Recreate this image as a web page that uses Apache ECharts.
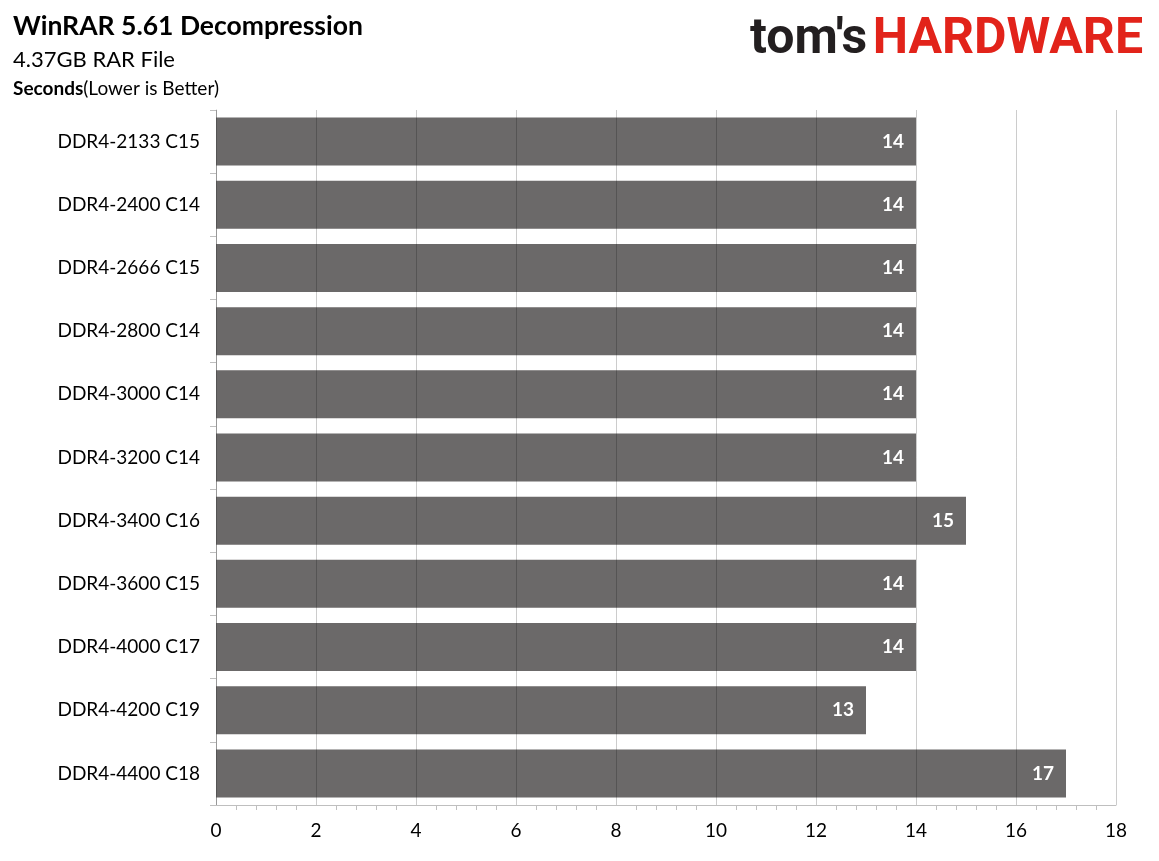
<!DOCTYPE html>
<html>
<head>
<meta charset="utf-8">
<script src="https://cdn.jsdelivr.net/npm/echarts@6/dist/echarts.min.js"></script>
<style>
  html, body { margin: 0; padding: 0; background: #fff; }
  #main { width: 1159px; height: 861px; }
</style>
</head>
<body>
<div id="main"></div>
<script>
var categories = ['DDR4-2133 C15', 'DDR4-2400 C14', 'DDR4-2666 C15', 'DDR4-2800 C14', 'DDR4-3000 C14',
  'DDR4-3200 C14', 'DDR4-3400 C16', 'DDR4-3600 C15', 'DDR4-4000 C17', 'DDR4-4200 C19', 'DDR4-4400 C18'];
var seconds = [14, 14, 14, 14, 14, 14, 15, 14, 14, 13, 17];
var xTicks = [0, 18, 2]; // min, max, step

var font = 'Lato, "Open Sans", sans-serif';
var myChart = echarts.init(document.getElementById('main'));

var option = {
  animation: false,
  backgroundColor: '#fff',
  textStyle: { fontFamily: font },
  title: [
    { text: 'WinRAR 5.61 Decompression', left: 8, top: 8,
      textStyle: { fontSize: 26.5, fontWeight: 'bold', color: '#000', fontFamily: font } },
    { text: '4.37GB RAR File', left: 8, top: 44,
      textStyle: { fontSize: 22, fontWeight: 'normal', color: '#000', fontFamily: font } },
    { text: '{b|Seconds}{n|(Lower is Better)}', left: 8, top: 74,
      textStyle: { fontWeight: 'normal', rich: {
        b: { fontSize: 19, fontWeight: 'bold', color: '#000', fontFamily: font },
        n: { fontSize: 19, fontWeight: 'normal', color: '#000', fontFamily: font }
      } } }
  ],
  graphic: [
    { type: 'text', left: 750, top: 15,
      style: { text: "tom's", fontSize: 50, fontWeight: 'bold', fill: '#231f20', fontFamily: 'Roboto, sans-serif' } },
    { type: 'text', right: 16, top: 15,
      style: { text: 'HARDWARE', fontSize: 50, fontWeight: 'bold', fill: '#e2231a', fontFamily: 'Roboto, sans-serif' } }
  ],
  grid: { left: 216, right: 43, top: 110, bottom: 56, containLabel: false },
  xAxis: {
    type: 'value',
    min: xTicks[0], max: xTicks[1], interval: xTicks[2],
    z: 5,
    axisLine: { show: true, lineStyle: { color: '#bfbfbf', width: 1 } },
    axisTick: { show: false },
    minorTick: { show: true, splitNumber: 5, length: 5, lineStyle: { color: '#bfbfbf' } },
    splitLine: { show: true, lineStyle: { color: 'rgba(0,0,0,0.2)', width: 1 } },
    axisLabel: { fontSize: 19, color: '#000', margin: 16, fontFamily: font }
  },
  yAxis: {
    type: 'category',
    inverse: true,
    data: categories,
    axisLine: { show: true, lineStyle: { color: '#bfbfbf' } },
    axisTick: { show: true, length: 6, lineStyle: { color: '#bfbfbf' } },
    axisLabel: { fontSize: 19, color: '#000', margin: 16, fontFamily: font }
  },
  series: [{
    type: 'bar',
    data: seconds,
    z: 2,
    barCategoryGap: '24%',
    itemStyle: { color: '#6b6969' },
    label: {
      show: true, position: 'insideRight', distance: 12,
      color: '#fff', fontWeight: 'bold', fontSize: 19, fontFamily: font
    }
  }]
};
myChart.setOption(option);
</script>
</body>
</html>
